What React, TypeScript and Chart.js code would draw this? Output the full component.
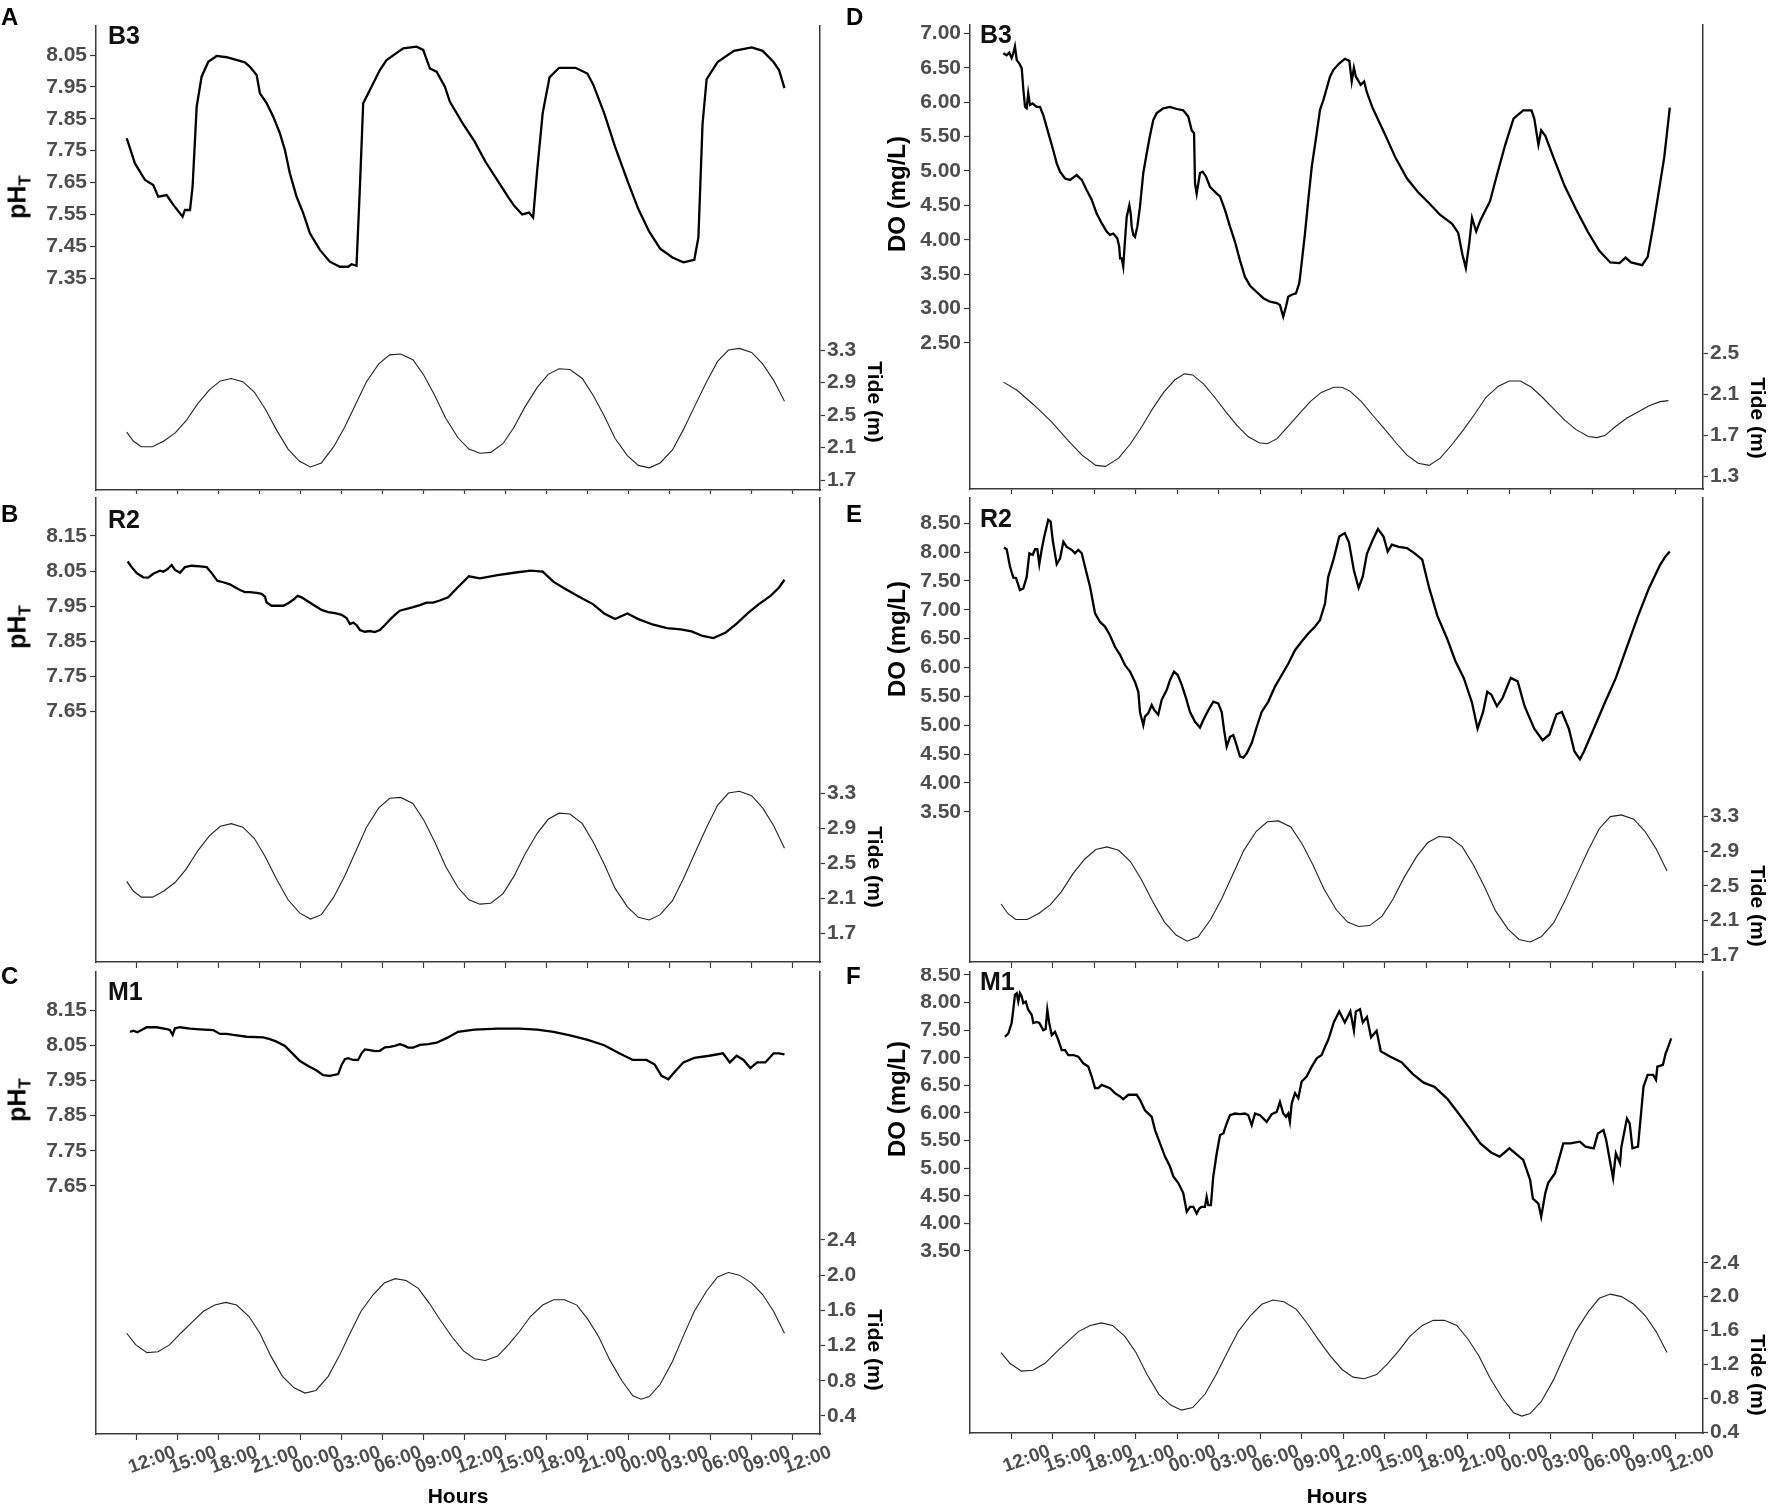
import React, { useEffect, useRef } from 'react';
import { Chart, registerables } from 'chart.js';

Chart.register(...registerables);

const FONT = '"Liberation Sans", Arial, Helvetica, sans-serif';
Chart.defaults.font.family = FONT;

// ---------- axis ticks ----------
const hourTicks = [0, 3, 6, 9, 12, 15, 18, 21, 24, 27, 30, 33, 36, 39, 42, 45, 48];
const hourLabels = ['12:00', '15:00', '18:00', '21:00', '00:00', '03:00', '06:00', '09:00', '12:00',
  '15:00', '18:00', '21:00', '00:00', '03:00', '06:00', '09:00', '12:00'];
const phTicksB3 = [8.05, 7.95, 7.85, 7.75, 7.65, 7.55, 7.45, 7.35];
const phTicksRM = [8.15, 8.05, 7.95, 7.85, 7.75, 7.65];
const doTicksB3 = [7.0, 6.5, 6.0, 5.5, 5.0, 4.5, 4.0, 3.5, 3.0, 2.5];
const doTicksRM = [8.5, 8.0, 7.5, 7.0, 6.5, 6.0, 5.5, 5.0, 4.5, 4.0, 3.5];
const tideTicksHigh = [3.3, 2.9, 2.5, 2.1, 1.7];
const tideTicksB3Do = [2.5, 2.1, 1.7, 1.3];
const tideTicksM1 = [2.4, 2.0, 1.6, 1.2, 0.8, 0.4];

// ---------- series: [hours since 12:00 day 1, value] ----------
const phB3: [number, number][] = [
  [-0.75, 7.789], [-0.15, 7.71], [0.59, 7.658], [1.19, 7.642], [1.56, 7.606], [2.17, 7.611], [2.66, 7.58],
  [3.34, 7.543], [3.51, 7.564], [3.88, 7.564], [4.07, 7.637], [4.37, 7.888], [4.73, 7.982], [5.22, 8.029],
  [5.83, 8.047], [6.56, 8.043], [7.9, 8.027], [8.27, 8.013], [8.76, 7.987], [9.0, 7.93], [9.49, 7.899],
  [9.97, 7.857], [10.46, 7.805], [10.83, 7.752], [11.19, 7.679], [11.68, 7.606], [12.17, 7.554], [12.66, 7.491],
  [13.39, 7.439], [14.12, 7.402], [14.85, 7.386], [15.46, 7.386], [15.71, 7.394], [16.07, 7.389], [16.32, 7.637],
  [16.56, 7.899], [17.05, 7.94], [17.78, 8.003], [18.27, 8.034], [19.49, 8.071], [20.46, 8.076], [20.95, 8.066],
  [21.44, 8.008], [21.93, 7.998], [22.54, 7.951], [22.9, 7.904], [23.88, 7.833], [24.7, 7.78], [25.5, 7.716],
  [26.4, 7.656], [27.2, 7.603], [27.6, 7.578], [28.2, 7.55], [28.7, 7.556], [29.0, 7.54], [29.3, 7.69],
  [29.7, 7.868], [30.2, 7.98], [30.9, 8.01], [32.1, 8.01], [32.97, 7.992], [33.4, 7.957], [34.2, 7.868],
  [35.0, 7.762], [35.9, 7.656], [36.7, 7.567], [37.5, 7.496], [38.3, 7.443], [39.2, 7.415], [40.0, 7.4],
  [40.8, 7.408], [41.1, 7.479], [41.4, 7.833], [41.7, 7.974], [42.5, 8.028], [43.7, 8.063], [45.0, 8.074],
  [45.8, 8.063], [46.6, 8.028], [47.0, 8.003], [47.4, 7.946],
];

const doB3: [number, number][] = [
  [-0.59, 6.71], [-0.35, 6.68], [-0.16, 6.72], [0.01, 6.64], [0.13, 6.71], [0.25, 6.81], [0.38, 6.61],
  [0.57, 6.56], [0.74, 6.49], [0.86, 6.18], [0.98, 5.93], [1.1, 5.91], [1.21, 6.13], [1.34, 5.96], [1.53, 5.98],
  [1.82, 5.93], [2.06, 5.93], [2.3, 5.81], [2.54, 5.64], [2.78, 5.47], [3.02, 5.3], [3.27, 5.11], [3.51, 4.99],
  [3.87, 4.89], [4.23, 4.87], [4.71, 4.94], [5.08, 4.87], [5.44, 4.72], [5.8, 4.58], [6.16, 4.38], [6.52, 4.24],
  [6.88, 4.12], [7.12, 4.07], [7.36, 4.09], [7.65, 4.02], [7.79, 3.9], [7.85, 3.73], [7.97, 3.73], [8.08, 3.61],
  [8.21, 4.0], [8.33, 4.33], [8.52, 4.5], [8.62, 4.38], [8.69, 4.19], [8.81, 4.07], [8.93, 4.04], [9.1, 4.19],
  [9.29, 4.48], [9.53, 4.97], [9.78, 5.26], [10.0, 5.5], [10.25, 5.74], [10.5, 5.84], [10.98, 5.91],
  [11.46, 5.93], [11.95, 5.9], [12.42, 5.88], [12.78, 5.79], [13.03, 5.59], [13.2, 5.55], [13.27, 4.82],
  [13.39, 4.67], [13.51, 4.82], [13.63, 4.97], [13.82, 4.99], [14.06, 4.92], [14.35, 4.77], [14.6, 4.72],
  [14.84, 4.67], [15.08, 4.63], [15.44, 4.43], [15.8, 4.19], [16.16, 3.97], [16.52, 3.7], [16.88, 3.46],
  [17.25, 3.33], [17.73, 3.24], [18.21, 3.15], [18.69, 3.1], [19.18, 3.08], [19.41, 3.05], [19.65, 2.88],
  [19.85, 3.03], [20.01, 3.17], [20.26, 3.2], [20.57, 3.22], [20.81, 3.37], [20.98, 3.66], [21.22, 4.09],
  [21.46, 4.58], [21.71, 5.06], [22.07, 5.55], [22.31, 5.89], [22.55, 6.03], [23.03, 6.37], [23.28, 6.47],
  [23.69, 6.56], [24.1, 6.63], [24.43, 6.6], [24.6, 6.3], [24.76, 6.5], [24.9, 6.37], [25.25, 6.25],
  [25.5, 6.3], [25.7, 6.14], [26.1, 5.92], [26.96, 5.55], [27.77, 5.19], [28.6, 4.89], [29.4, 4.69],
  [30.2, 4.53], [31.0, 4.36], [31.86, 4.23], [32.3, 4.1], [32.6, 3.79], [32.85, 3.59], [33.1, 3.95],
  [33.3, 4.32], [33.6, 4.12], [33.9, 4.28], [34.6, 4.56], [35.1, 4.94], [35.7, 5.38], [36.3, 5.76],
  [37.0, 5.88], [37.6, 5.88], [37.8, 5.76], [38.1, 5.38], [38.3, 5.59], [38.6, 5.51], [39.2, 5.19],
  [40.0, 4.78], [40.8, 4.45], [41.66, 4.12], [42.5, 3.84], [43.3, 3.67], [43.96, 3.66], [44.4, 3.74],
  [44.8, 3.67], [45.6, 3.63], [46.0, 3.75], [46.4, 4.2], [46.8, 4.7], [47.2, 5.2], [47.6, 5.92],
];

const phR2: [number, number][] = [
  [-0.68, 8.077], [-0.39, 8.061], [-0.02, 8.044], [0.46, 8.032], [0.83, 8.031], [1.19, 8.042], [1.68, 8.051],
  [1.93, 8.048], [2.22, 8.055], [2.54, 8.067], [2.78, 8.053], [3.15, 8.045], [3.51, 8.061], [4.0, 8.065],
  [4.61, 8.063], [5.1, 8.061], [5.47, 8.044], [5.88, 8.022], [6.32, 8.018], [6.8, 8.012], [7.17, 8.004],
  [7.54, 7.996], [7.9, 7.99], [8.27, 7.99], [8.76, 7.988], [9.12, 7.985], [9.37, 7.977], [9.49, 7.96],
  [9.86, 7.951], [10.22, 7.951], [10.71, 7.951], [11.07, 7.958], [11.44, 7.968], [11.76, 7.979], [12.05, 7.975],
  [12.53, 7.963], [13.02, 7.951], [13.51, 7.939], [14.0, 7.933], [14.49, 7.93], [14.98, 7.925], [15.34, 7.916],
  [15.59, 7.899], [15.83, 7.903], [16.07, 7.896], [16.32, 7.882], [16.68, 7.877], [17.05, 7.879], [17.41, 7.876],
  [17.78, 7.882], [18.15, 7.896], [18.51, 7.911], [18.88, 7.925], [19.24, 7.937], [19.61, 7.941], [20.22, 7.947],
  [20.71, 7.953], [21.2, 7.96], [21.68, 7.96], [22.17, 7.966], [22.78, 7.975], [23.47, 8.003], [24.3, 8.035],
  [25.1, 8.029], [26.4, 8.038], [27.6, 8.045], [28.8, 8.051], [29.7, 8.048], [30.5, 8.019], [31.3, 8.0],
  [32.3, 7.978], [33.4, 7.955], [34.2, 7.929], [35.0, 7.913], [35.9, 7.929], [36.7, 7.913], [37.8, 7.897],
  [38.8, 7.887], [39.8, 7.884], [40.6, 7.878], [41.4, 7.865], [42.2, 7.859], [43.1, 7.875], [43.9, 7.9],
  [44.7, 7.929], [45.5, 7.955], [46.4, 7.98], [47.0, 8.003], [47.4, 8.025],
];

const doR2: [number, number][] = [
  [-0.54, 8.08], [-0.35, 8.05], [-0.11, 7.75], [0.13, 7.56], [0.33, 7.55], [0.61, 7.34], [0.85, 7.37],
  [1.1, 7.57], [1.29, 7.98], [1.53, 7.95], [1.7, 8.05], [1.87, 8.05], [2.01, 7.79], [2.18, 8.04], [2.37, 8.27],
  [2.66, 8.56], [2.83, 8.53], [2.98, 8.21], [3.27, 7.79], [3.51, 7.89], [3.75, 8.18], [3.99, 8.09], [4.35, 8.04],
  [4.59, 7.98], [4.83, 8.04], [5.08, 7.98], [5.31, 7.75], [5.68, 7.4], [6.04, 6.94], [6.4, 6.79], [6.76, 6.71],
  [7.12, 6.56], [7.48, 6.36], [7.85, 6.22], [8.21, 6.04], [8.57, 5.93], [8.93, 5.75], [9.17, 5.58], [9.29, 5.23],
  [9.53, 5.0], [9.65, 5.15], [9.89, 5.21], [10.14, 5.35], [10.33, 5.26], [10.61, 5.18], [10.86, 5.44],
  [11.22, 5.61], [11.46, 5.78], [11.75, 5.93], [12.02, 5.87], [12.31, 5.7], [12.62, 5.47], [12.91, 5.23],
  [13.27, 5.06], [13.63, 4.96], [13.87, 5.09], [14.23, 5.26], [14.59, 5.41], [14.95, 5.38], [15.2, 5.23],
  [15.37, 4.92], [15.56, 4.63], [15.8, 4.8], [16.04, 4.83], [16.23, 4.69], [16.52, 4.46], [16.76, 4.44],
  [17.0, 4.51], [17.37, 4.69], [17.73, 4.97], [18.09, 5.23], [18.57, 5.41], [19.05, 5.67], [19.54, 5.87],
  [20.02, 6.07], [20.5, 6.3], [20.98, 6.45], [21.46, 6.59], [21.95, 6.71], [22.3, 6.82], [22.67, 7.11],
  [22.9, 7.57], [23.28, 7.87], [23.7, 8.27], [24.1, 8.33], [24.4, 8.17], [24.76, 7.68], [25.1, 7.38],
  [25.4, 7.58], [25.7, 7.97], [26.1, 8.2], [26.5, 8.4], [26.9, 8.27], [27.2, 8.01], [27.5, 8.13], [28.0, 8.09],
  [28.6, 8.07], [29.2, 7.97], [29.7, 7.87], [30.2, 7.38], [30.8, 6.89], [31.5, 6.5], [32.1, 6.11], [32.7, 5.82],
  [33.3, 5.39], [33.7, 4.94], [34.1, 5.23], [34.4, 5.58], [34.7, 5.53], [35.1, 5.33], [35.5, 5.47], [36.1, 5.82],
  [36.6, 5.76], [37.1, 5.33], [37.8, 4.94], [38.4, 4.74], [38.9, 4.84], [39.4, 5.19], [39.8, 5.23], [40.3, 4.94],
  [40.7, 4.55], [41.1, 4.41], [41.4, 4.55], [42.1, 4.94], [42.9, 5.39], [43.7, 5.82], [44.5, 6.36], [45.3, 6.89],
  [46.1, 7.38], [46.9, 7.78], [47.3, 7.93], [47.6, 8.01],
];

const phM1: [number, number][] = [
  [-0.51, 8.088], [-0.27, 8.091], [0.02, 8.087], [0.34, 8.093], [0.71, 8.101], [1.44, 8.101], [2.17, 8.096],
  [2.41, 8.093], [2.61, 8.079], [2.78, 8.098], [3.15, 8.101], [3.88, 8.097], [4.61, 8.095], [5.58, 8.093],
  [6.07, 8.082], [6.56, 8.082], [7.05, 8.079], [8.03, 8.074], [9.24, 8.072], [9.73, 8.067], [10.22, 8.06],
  [10.83, 8.048], [11.32, 8.029], [11.93, 8.005], [12.54, 7.991], [13.15, 7.978], [13.63, 7.965], [14.12, 7.963],
  [14.73, 7.968], [14.98, 7.994], [15.22, 8.01], [15.46, 8.013], [15.83, 8.008], [16.19, 8.008], [16.44, 8.027],
  [16.68, 8.038], [17.05, 8.036], [17.41, 8.033], [17.78, 8.034], [18.15, 8.044], [18.51, 8.045], [18.88, 8.048],
  [19.24, 8.053], [19.61, 8.048], [19.85, 8.043], [20.22, 8.043], [20.71, 8.051], [21.32, 8.053], [21.93, 8.057],
  [22.66, 8.07], [23.5, 8.088], [24.7, 8.094], [26.4, 8.097], [28.0, 8.097], [29.3, 8.094], [30.5, 8.088],
  [31.7, 8.078], [33.0, 8.065], [34.2, 8.05], [35.3, 8.027], [36.3, 8.008], [37.3, 8.008], [37.9, 7.995],
  [38.4, 7.963], [38.9, 7.953], [39.4, 7.976], [40.0, 8.001], [40.8, 8.014], [41.9, 8.02], [42.9, 8.027],
  [43.4, 8.001], [43.9, 8.02], [44.4, 8.008], [44.9, 7.985], [45.4, 8.001], [46.0, 8.001], [46.6, 8.027],
  [47.0, 8.027], [47.4, 8.024],
];

const doM1: [number, number][] = [
  [-0.47, 7.38], [-0.23, 7.44], [0.01, 7.63], [0.13, 7.87], [0.25, 8.14], [0.38, 8.17], [0.49, 8.02],
  [0.61, 8.17], [0.74, 8.11], [0.85, 7.99], [1.03, 8.02], [1.21, 7.87], [1.46, 7.78], [1.58, 7.63], [1.82, 7.65],
  [2.01, 7.63], [2.3, 7.5], [2.47, 7.52], [2.59, 7.87], [2.73, 7.63], [2.91, 7.41], [3.15, 7.47], [3.39, 7.32],
  [3.63, 7.14], [3.87, 7.14], [4.11, 7.05], [4.47, 7.05], [4.83, 7.02], [5.19, 6.9], [5.55, 6.84], [5.8, 6.66],
  [6.04, 6.45], [6.28, 6.45], [6.52, 6.51], [7.12, 6.45], [7.48, 6.36], [7.85, 6.3], [8.08, 6.25], [8.45, 6.33],
  [9.05, 6.33], [9.29, 6.24], [9.65, 6.05], [10.14, 5.93], [10.38, 5.69], [10.74, 5.45], [11.1, 5.21],
  [11.46, 5.03], [11.7, 4.85], [12.06, 4.73], [12.42, 4.55], [12.67, 4.21], [12.91, 4.3], [13.15, 4.3],
  [13.39, 4.18], [13.58, 4.27], [13.75, 4.3], [13.99, 4.3], [14.11, 4.48], [14.23, 4.33], [14.42, 4.33],
  [14.59, 4.85], [14.84, 5.27], [15.08, 5.6], [15.32, 5.63], [15.56, 5.81], [15.8, 5.96], [16.16, 5.99],
  [16.52, 5.98], [16.88, 5.99], [17.12, 5.96], [17.37, 5.78], [17.61, 5.99], [17.97, 5.96], [18.45, 5.84],
  [18.82, 5.98], [19.18, 6.02], [19.41, 6.2], [19.65, 5.99], [19.85, 5.93], [20.01, 5.99], [20.13, 5.84],
  [20.26, 6.17], [20.5, 6.36], [20.74, 6.27], [20.98, 6.57], [21.34, 6.66], [21.71, 6.84], [22.07, 6.99],
  [22.43, 7.05], [22.67, 7.2], [22.9, 7.32], [23.3, 7.64], [23.7, 7.84], [24.1, 7.64], [24.5, 7.84],
  [24.76, 7.49], [24.9, 7.84], [25.2, 7.88], [25.4, 7.64], [25.7, 7.74], [26.0, 7.37], [26.4, 7.49],
  [26.7, 7.12], [27.4, 7.02], [28.2, 6.92], [29.0, 6.71], [29.8, 6.55], [30.6, 6.47], [31.5, 6.26], [32.3, 6.0],
  [33.1, 5.73], [33.9, 5.45], [34.7, 5.28], [35.3, 5.21], [36.0, 5.36], [37.0, 5.15], [37.5, 4.79], [37.7, 4.45],
  [38.1, 4.36], [38.3, 4.12], [38.6, 4.55], [38.8, 4.73], [39.3, 4.91], [39.9, 5.45], [40.4, 5.45], [41.1, 5.48],
  [41.5, 5.39], [42.1, 5.36], [42.4, 5.63], [42.8, 5.69], [43.0, 5.51], [43.3, 5.09], [43.5, 4.82], [43.7, 5.27],
  [44.0, 5.09], [44.1, 5.39], [44.5, 5.9], [44.7, 5.81], [44.9, 5.36], [45.3, 5.39], [45.7, 6.48], [46.0, 6.69],
  [46.4, 6.69], [46.6, 6.6], [46.7, 6.84], [47.1, 6.87], [47.3, 7.08], [47.4, 7.14], [47.7, 7.35],
];

const tideB3R2: [number, number][] = [
  [-0.75, 2.29], [-0.27, 2.18], [0.31, 2.11], [1.14, 2.11], [1.97, 2.18], [2.8, 2.28], [3.6, 2.43], [4.45, 2.64],
  [5.3, 2.81], [6.1, 2.92], [6.9, 2.95], [7.75, 2.91], [8.6, 2.78], [9.4, 2.57], [10.2, 2.32], [11.06, 2.08],
  [11.9, 1.93], [12.7, 1.86], [13.5, 1.91], [14.4, 2.11], [15.2, 2.35], [16.0, 2.63], [16.8, 2.91], [17.7, 3.13],
  [18.5, 3.24], [19.3, 3.25], [20.2, 3.18], [21.0, 2.99], [21.8, 2.74], [22.6, 2.46], [23.5, 2.22], [24.3, 2.08],
  [25.1, 2.03], [25.9, 2.04], [26.8, 2.15], [27.6, 2.35], [28.4, 2.6], [29.3, 2.84], [30.1, 3.0], [30.9, 3.07],
  [31.7, 3.06], [32.6, 2.95], [33.4, 2.74], [34.2, 2.49], [35.0, 2.21], [35.9, 2.0], [36.7, 1.88], [37.5, 1.85],
  [38.3, 1.91], [39.2, 2.07], [40.0, 2.32], [40.8, 2.6], [41.7, 2.91], [42.5, 3.16], [43.3, 3.3], [44.1, 3.32],
  [45.0, 3.27], [45.8, 3.13], [46.6, 2.93], [47.4, 2.67],
];

const tideB3Do: [number, number][] = [
  [-0.58, 2.22], [0.4, 2.14], [1.6, 2.0], [2.85, 1.84], [4.1, 1.65], [5.1, 1.51], [6.1, 1.41], [6.8, 1.4],
  [7.75, 1.48], [8.6, 1.62], [9.4, 1.78], [10.2, 1.96], [11.0, 2.12], [11.8, 2.24], [12.5, 2.3], [13.1, 2.29],
  [13.9, 2.2], [14.7, 2.07], [15.5, 1.93], [16.3, 1.8], [17.1, 1.69], [17.9, 1.63], [18.5, 1.62], [19.2, 1.67],
  [20.0, 1.79], [20.8, 1.91], [21.6, 2.03], [22.4, 2.12], [23.3, 2.17], [23.9, 2.17], [24.5, 2.13], [25.3, 2.03],
  [26.1, 1.9], [27.0, 1.76], [27.8, 1.63], [28.6, 1.51], [29.4, 1.43], [30.2, 1.41], [31.0, 1.48], [31.9, 1.62],
  [32.7, 1.76], [33.5, 1.91], [34.3, 2.07], [35.2, 2.18], [36.0, 2.23], [36.8, 2.23], [37.6, 2.17], [38.4, 2.07],
  [39.2, 1.96], [40.0, 1.85], [40.8, 1.76], [41.7, 1.69], [42.3, 1.68], [42.9, 1.7], [43.7, 1.79], [44.5, 1.87],
  [45.3, 1.93], [46.1, 1.99], [46.9, 2.03], [47.5, 2.04],
];

const tideM1: [number, number][] = [
  [-0.75, 1.34], [-0.1, 1.21], [0.73, 1.12], [1.55, 1.13], [2.4, 1.21], [3.2, 1.34], [4.0, 1.46], [4.86, 1.59],
  [5.7, 1.66], [6.5, 1.69], [7.3, 1.66], [8.2, 1.53], [9.0, 1.34], [9.8, 1.08], [10.65, 0.85], [11.5, 0.72],
  [12.3, 0.66], [13.1, 0.69], [14.0, 0.85], [14.8, 1.08], [15.6, 1.34], [16.4, 1.59], [17.3, 1.78], [18.1, 1.91],
  [18.9, 1.96], [19.7, 1.94], [20.6, 1.85], [21.4, 1.68], [22.2, 1.49], [23.05, 1.3], [23.9, 1.14], [24.7, 1.05],
  [25.5, 1.03], [26.4, 1.08], [27.2, 1.21], [28.0, 1.36], [28.8, 1.53], [29.7, 1.66], [30.5, 1.72], [31.3, 1.72],
  [32.2, 1.66], [33.0, 1.5], [33.8, 1.3], [34.6, 1.04], [35.5, 0.8], [36.3, 0.63], [36.9, 0.59], [37.5, 0.62],
  [38.3, 0.76], [39.2, 1.02], [40.0, 1.31], [40.8, 1.59], [41.7, 1.82], [42.5, 1.98], [43.3, 2.03], [44.1, 2.0],
  [45.0, 1.91], [45.8, 1.78], [46.6, 1.59], [47.4, 1.34],
];

// ---------- layout ----------
type PanelSpec = {
  key: string;
  left: number; top: number; width: number; height: number;
  yW: number; y2W: number; padTop: number; xH: number; showX: boolean;
  main: [number, number][]; mainMin: number; mainMax: number; mainTicks: number[]; mainDec: number;
  tide: [number, number][]; tideMin: number; tideMax: number; tideTicks: number[];
};

const LEFT = { left: 0, width: 886, yW: 96, y2W: 66 };
const RIGHT = { left: 886, width: 886, yW: 84, y2W: 69 };
const ROW1 = { top: 0, height: 494 };
const ROW2 = { top: 494, height: 474 };
const ROW3 = { top: 968, height: 538 };

const panels: PanelSpec[] = [
  { key: 'A', ...LEFT, ...ROW1, padTop: 26, xH: 4, showX: false,
    main: phB3, mainMin: 6.686, mainMax: 8.141, mainTicks: phTicksB3, mainDec: 2,
    tide: tideB3R2, tideMin: 1.577, tideMax: 7.288, tideTicks: tideTicksHigh },
  { key: 'D', ...RIGHT, ...ROW1, padTop: 25, xH: 5, showX: false,
    main: doB3, mainMin: 0.377, mainMax: 7.121, mainTicks: doTicksB3, mainDec: 2,
    tide: tideB3Do, tideMin: 1.18, tideMax: 5.694, tideTicks: tideTicksB3Do },
  { key: 'B', ...LEFT, ...ROW2, padTop: 4, xH: 6, showX: false,
    main: phR2, mainMin: 6.936, mainMax: 8.258, mainTicks: phTicksRM, mainDec: 2,
    tide: tideB3R2, tideMin: 1.369, tideMax: 6.672, tideTicks: tideTicksHigh },
  { key: 'E', ...RIGHT, ...ROW2, padTop: 4, xH: 6, showX: false,
    main: doR2, mainMin: 0.897, mainMax: 8.938, mainTicks: doTicksRM, mainDec: 2,
    tide: tideB3R2, tideMin: 1.619, tideMax: 6.983, tideTicks: tideTicksHigh },
  { key: 'C', ...LEFT, ...ROW3, padTop: 4, xH: 72, showX: true,
    main: phM1, mainMin: 6.945, mainMax: 8.258, mainTicks: phTicksRM, mainDec: 2,
    tide: tideM1, tideMin: 0.195, tideMax: 5.445, tideTicks: tideTicksM1 },
  { key: 'F', ...RIGHT, ...ROW3, padTop: 4, xH: 73, showX: true,
    main: doM1, mainMin: 0.203, mainMax: 8.554, mainTicks: doTicksRM, mainDec: 2,
    tide: tideM1, tideMin: 0.39, tideMax: 5.833, tideTicks: tideTicksM1 },
];

const AXIS_COLOR = '#3a3a3a';
const TICK_TEXT = '#4d4d4d';

function Panel({ spec }: { spec: PanelSpec }) {
  const ref = useRef<HTMLCanvasElement | null>(null);
  useEffect(() => {
    if (!ref.current) return;
    const s = spec;
    const fitV = (w: number) => (sc: any) => {
      sc.width = w;
      sc.paddingTop = 0;
      sc.paddingBottom = 0;
    };
    const chart = new Chart(ref.current, {
      type: 'line',
      data: {
        datasets: [
          {
            data: s.main.map(([x, y]) => ({ x, y })),
            yAxisID: 'y', xAxisID: 'x',
            borderColor: '#000', borderWidth: 2.3, pointRadius: 0, tension: 0, fill: false,
          },
          {
            data: s.tide.map(([x, y]) => ({ x, y })),
            yAxisID: 'y2', xAxisID: 'x',
            borderColor: '#222', borderWidth: 1.1, pointRadius: 0, tension: 0, fill: false,
          },
        ],
      },
      options: {
        responsive: false,
        animation: false,
        devicePixelRatio: 1,
        events: [],
        layout: { padding: { top: s.padTop, left: 0, right: 0, bottom: 0 } },
        plugins: { legend: { display: false }, tooltip: { enabled: false }, title: { display: false } },
        scales: {
          x: {
            type: 'linear', position: 'bottom', min: -3, max: 50,
            afterBuildTicks: (sc: any) => { sc.ticks = hourTicks.map((v) => ({ value: v })); },
            afterFit: (sc: any) => { sc.height = s.xH; sc.paddingLeft = 0; sc.paddingRight = 0; },
            ticks: {
              display: s.showX, autoSkip: false, minRotation: 20, maxRotation: 20,
              labelOffset: 38, padding: 1, color: TICK_TEXT,
              font: { family: FONT, size: 19, weight: 'bold' },
              callback: (v: any) => hourLabels[hourTicks.indexOf(Number(v))] ?? '',
            },
            grid: { display: true, drawOnChartArea: false, drawTicks: true, tickLength: 6, tickColor: AXIS_COLOR, tickWidth: 1.2 },
            border: { display: true, color: AXIS_COLOR, width: 1.5 },
          },
          y: {
            type: 'linear', position: 'left', min: s.mainMin, max: s.mainMax,
            afterBuildTicks: (sc: any) => { sc.ticks = s.mainTicks.map((v) => ({ value: v })); },
            afterFit: fitV(s.yW),
            ticks: {
              color: TICK_TEXT, padding: 3,
              font: { family: FONT, size: 21, weight: 'bold' },
              callback: (v: any) => Number(v).toFixed(s.mainDec),
            },
            grid: { display: true, drawOnChartArea: false, drawTicks: true, tickLength: 6, tickColor: AXIS_COLOR, tickWidth: 1.2 },
            border: { display: true, color: AXIS_COLOR, width: 1.5 },
          },
          y2: {
            type: 'linear', position: 'right', min: s.tideMin, max: s.tideMax,
            afterBuildTicks: (sc: any) => { sc.ticks = s.tideTicks.map((v) => ({ value: v })); },
            afterFit: fitV(s.y2W),
            ticks: {
              color: TICK_TEXT, padding: 2,
              font: { family: FONT, size: 21, weight: 'bold' },
              callback: (v: any) => Number(v).toFixed(1),
            },
            grid: { display: true, drawOnChartArea: false, drawTicks: true, tickLength: 5, tickColor: AXIS_COLOR, tickWidth: 1.2 },
            border: { display: true, color: AXIS_COLOR, width: 1.5 },
          },
        },
      } as any,
    });
    return () => chart.destroy();
  }, [spec]);
  return (
    <canvas
      ref={ref}
      width={spec.width}
      height={spec.height}
      style={{ position: 'absolute', left: spec.left, top: spec.top, width: spec.width, height: spec.height, display: 'block' }}
    />
  );
}

// ---------- text overlays ----------
const ASC = 0.8465; // baseline offset for line-height 1 (Liberation Sans)

function Label({ text, x, baseline, size, color = '#000', center = false }:
  { text: string; x: number; baseline: number; size: number; color?: string; center?: boolean }) {
  return (
    <div style={{
      position: 'absolute', left: x, top: baseline - ASC * size, fontFamily: FONT, fontWeight: 'bold',
      fontSize: size, lineHeight: 1, color, whiteSpace: 'nowrap',
      transform: center ? 'translateX(-50%)' : undefined,
    }}>{text}</div>
  );
}

function VLabel({ children, cx, cy, size, deg }: { children: React.ReactNode; cx: number; cy: number; size: number; deg: number }) {
  return (
    <div style={{
      position: 'absolute', left: cx, top: cy, fontFamily: FONT, fontWeight: 'bold', fontSize: size,
      lineHeight: 1, color: '#000', whiteSpace: 'nowrap',
      transform: `translate(-50%, -50%) rotate(${deg}deg)`,
    }}>{children}</div>
  );
}

const letters = [
  { t: 'A', x: 1, b: 25 }, { t: 'B', x: 1, b: 522 }, { t: 'C', x: 1, b: 984 },
  { t: 'D', x: 846, b: 25 }, { t: 'E', x: 846, b: 522 }, { t: 'F', x: 846, b: 984 },
];
const stations = [
  { t: 'B3', x: 108, b: 44 }, { t: 'R2', x: 108, b: 528 }, { t: 'M1', x: 108, b: 1000 },
  { t: 'B3', x: 980, b: 43 }, { t: 'R2', x: 980, b: 527 }, { t: 'M1', x: 980, b: 990 },
];
const phTitles = [197, 627, 1100];
const doTitles = [194, 639, 1099];
const tideTitlesLeft = [402, 867, 1350];
const tideTitlesRight = [418, 906, 1375];

export default function App() {
  return (
    <div style={{ position: 'absolute', left: 0, top: 0, width: 1772, height: 1506, background: '#fff', overflow: 'hidden' }}>
      {panels.map((p) => <Panel key={p.key} spec={p} />)}
      {letters.map((l) => <Label key={l.t} text={l.t} x={l.x} baseline={l.b} size={24} />)}
      {stations.map((s, i) => <Label key={'s' + i} text={s.t} x={s.x} baseline={s.b} size={25} color="#111" />)}
      {phTitles.map((cy, i) => (
        <VLabel key={'ph' + i} cx={17} cy={cy} size={25} deg={-90}>
          pH<sub style={{ fontSize: 17, verticalAlign: 'baseline', position: 'relative', top: 5 }}>T</sub>
        </VLabel>
      ))}
      {doTitles.map((cy, i) => <VLabel key={'do' + i} cx={897} cy={cy} size={24} deg={-90}>DO (mg/L)</VLabel>)}
      {tideTitlesLeft.map((cy, i) => <VLabel key={'tl' + i} cx={875} cy={cy} size={21} deg={90}>Tide (m)</VLabel>)}
      {tideTitlesRight.map((cy, i) => <VLabel key={'tr' + i} cx={1758} cy={cy} size={21} deg={90}>Tide (m)</VLabel>)}
      <Label text="Hours" x={458} baseline={1503} size={21} center />
      <Label text="Hours" x={1337} baseline={1503} size={21} center />
    </div>
  );
}
